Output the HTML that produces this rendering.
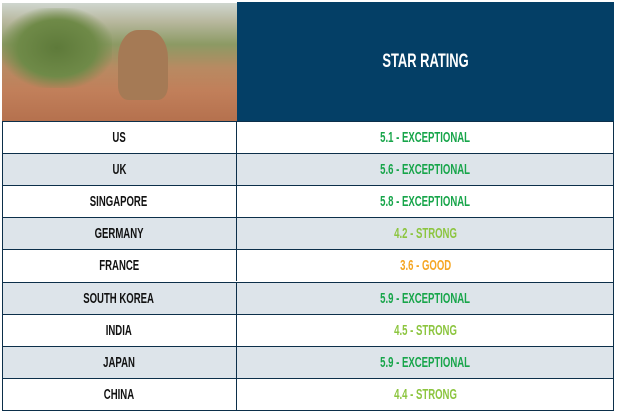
<!DOCTYPE html>
<html><head><style>
body{margin:0;width:617px;height:415px;background:#fff;position:relative;overflow:hidden;font-family:"Liberation Sans",sans-serif;font-weight:bold}
.img{position:absolute;left:2px;top:3px;width:235px;height:118px;background:linear-gradient(180deg,#cfd6cf 0%,#b9b9a0 15%,#8c9a64 35%,#b88a62 55%,#c17f5a 75%,#b5714e 100%)}
.grass{position:absolute;left:2px;top:8px;width:110px;height:80px;background:radial-gradient(ellipse at 50% 50%,#5e7a3a 0%,#6f8a48 50%,rgba(120,140,80,0) 75%)}
.roo{position:absolute;left:118px;top:30px;width:50px;height:70px;background:#a57a55;border-radius:40% 40% 20% 20%}
.hdr{position:absolute;left:237px;top:2px;width:377px;height:119px;background:#043f66;color:#fff;font-size:19px;display:flex;align-items:center;justify-content:center}
.hdr span{display:inline-block;transform:scaleX(0.68)}
.row{position:absolute;left:2px;width:612px;height:32px;border-top:1.5px solid #0c2f4a;box-sizing:border-box}
.c1,.c2{position:absolute;top:0;height:100%;display:flex;align-items:center;justify-content:center;font-size:14.5px}
.c1 span,.c2 span{display:inline-block;transform:scaleX(0.66);white-space:nowrap}
.c1{left:0;width:235px;color:#111;border-right:1.5px solid #0c2f4a;box-sizing:border-box}
.c2{left:235px;width:377px}
.g{color:#17a54a}.s{color:#8cc53f}.o{color:#f5a623}
.alt{background:#dde4ea}
.frame{position:absolute;left:2px;top:121px;width:612px;height:290px;border:1.5px solid #0c2f4a;border-top:none;box-sizing:border-box}
</style></head><body>
<div class="img"></div><div class="grass"></div><div class="roo"></div>
<div class="hdr"><span>STAR RATING</span></div>
<div class="row" style="top:121px"><div class="c1"><span>US</span></div><div class="c2 g"><span>5.1 - EXCEPTIONAL</span></div></div>
<div class="row alt" style="top:153px"><div class="c1"><span>UK</span></div><div class="c2 g"><span>5.6 - EXCEPTIONAL</span></div></div>
<div class="row" style="top:185px"><div class="c1"><span>SINGAPORE</span></div><div class="c2 g"><span>5.8 - EXCEPTIONAL</span></div></div>
<div class="row alt" style="top:217px"><div class="c1"><span>GERMANY</span></div><div class="c2 s"><span>4.2 - STRONG</span></div></div>
<div class="row" style="top:249px"><div class="c1"><span>FRANCE</span></div><div class="c2 o"><span>3.6 - GOOD</span></div></div>
<div class="row alt" style="top:282px"><div class="c1"><span>SOUTH KOREA</span></div><div class="c2 g"><span>5.9 - EXCEPTIONAL</span></div></div>
<div class="row" style="top:314px"><div class="c1"><span>INDIA</span></div><div class="c2 s"><span>4.5 - STRONG</span></div></div>
<div class="row alt" style="top:346px"><div class="c1"><span>JAPAN</span></div><div class="c2 g"><span>5.9 - EXCEPTIONAL</span></div></div>
<div class="row" style="top:378px"><div class="c1"><span>CHINA</span></div><div class="c2 s"><span>4.4 - STRONG</span></div></div>
<div class="frame"></div>
</body></html>
